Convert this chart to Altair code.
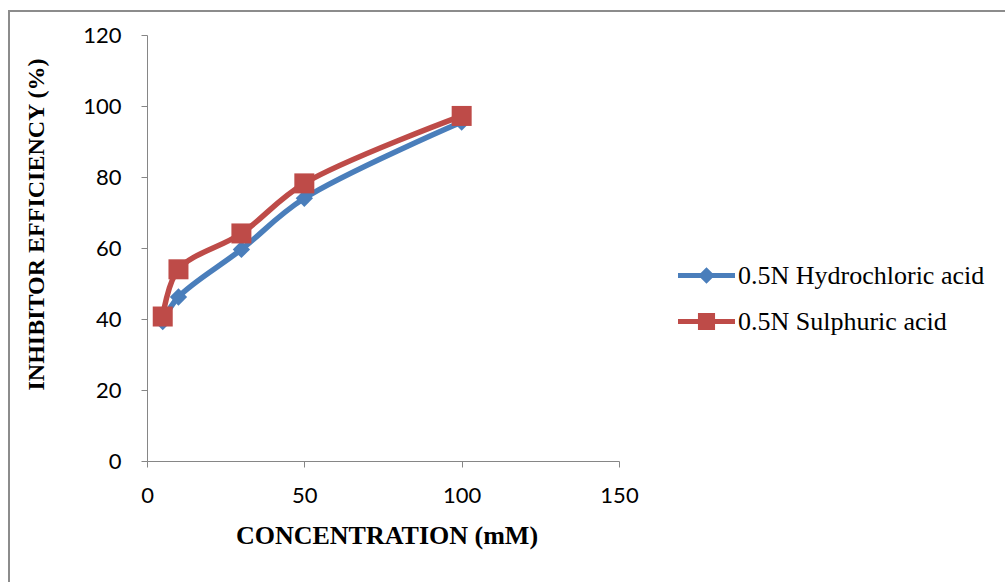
import altair as alt
import pandas as pd

concentration = [5, 10, 30, 50, 100]
hcl = [39.3, 46.2, 59.6, 74.0, 95.5]
h2so4 = [40.7, 54.0, 64.1, 78.2, 97.2]
series_names = ["0.5N Hydrochloric acid", "0.5N Sulphuric acid"]
series_colors = ["#4A7EBB", "#BE4B48"]
x_ticks = [0, 50, 100, 150]
y_ticks = [0, 20, 40, 60, 80, 100, 120]

rows = []
for c, v in zip(concentration, hcl):
    rows.append({"conc": c, "eff": v, "series": series_names[0]})
for c, v in zip(concentration, h2so4):
    rows.append({"conc": c, "eff": v, "series": series_names[1]})
df = pd.DataFrame(rows)

legend_paths = [
    "M-1,-0.09 L1,-0.09 L1,0.09 L-1,0.09 Z M-0.29,0 L0,-0.29 L0.29,0 L0,0.29 Z",
    "M-1,-0.09 L1,-0.09 L1,0.09 L-1,0.09 Z M-0.3,-0.3 L0.3,-0.3 L0.3,0.3 L-0.3,0.3 Z",
]

x_enc = alt.X("conc:Q", scale=alt.Scale(domain=[0, 150], nice=False),
              axis=alt.Axis(values=x_ticks, title="CONCENTRATION (mM)", grid=False,
                            domainColor="#868686", tickColor="#868686", tickSize=6,
                            labelFont="Lato", labelFontSize=22, labelColor="#000000",
                            labelPadding=18, labelFlush=False, titleFont="Liberation Serif",
                            titleFontSize=26, titleFontWeight="bold", titleColor="#000000",
                            titleX=239.5, titleY=82, titleBaseline="alphabetic"))
y_enc = alt.Y("eff:Q", scale=alt.Scale(domain=[0, 120], nice=False),
              axis=alt.Axis(values=y_ticks, title="INHIBITOR EFFICIENCY (%)", grid=False,
                            domainColor="#868686", tickColor="#868686", tickSize=6,
                            labelFont="Lato", labelFontSize=22, labelColor="#000000",
                            labelPadding=20, labelFlush=False, titleFont="Liberation Serif",
                            titleFontSize=24, titleFontWeight="bold", titleColor="#000000",
                            titleX=-104, titleY=189, titleBaseline="alphabetic"))

layers = []
for name, col in zip(series_names, series_colors):
    sub = df[df["series"] == name]
    layers.append(
        alt.Chart(sub).mark_line(interpolate="catmull-rom", strokeWidth=5.5, color=col)
        .encode(x=x_enc, y=y_enc)
    )
shapes = ["diamond", "square"]
sizes = [300, 400]
for name, col, shp, sz in zip(series_names, series_colors, shapes, sizes):
    sub = df[df["series"] == name]
    layers.append(
        alt.Chart(sub).mark_point(filled=True, opacity=1, color=col, shape=shp, size=sz, strokeWidth=0)
        .encode(x="conc:Q", y="eff:Q")
    )

legend_layer = alt.Chart(df).transform_filter("false").mark_point(filled=True, opacity=1, strokeWidth=0).encode(
    x="conc:Q", y="eff:Q",
    color=alt.Color("series:N", scale=alt.Scale(domain=series_names, range=series_colors),
                    legend=alt.Legend(title=None, orient="none", legendX=531, legendY=212,
                                      labelFont="Liberation Serif", labelFontSize=26,
                                      labelColor="#000000", labelOffset=3, labelLimit=0,
                                      symbolSize=3249, symbolStrokeWidth=0,
                                      rowPadding=4, padding=0)),
    shape=alt.Shape("series:N", scale=alt.Scale(domain=series_names, range=legend_paths)),
    size=alt.value(3249),
)
layers.append(legend_layer)

frame_top = alt.Chart(pd.DataFrame({"a": [0]})).mark_rule(color="#8c8c8c", strokeWidth=2).encode(
    x=alt.value(-138), x2=alt.value(870), y=alt.value(-24))
frame_left = alt.Chart(pd.DataFrame({"a": [0]})).mark_rule(color="#8c8c8c", strokeWidth=2).encode(
    x=alt.value(-138), y=alt.value(-25), y2=alt.value(560))
layers = [frame_top, frame_left] + layers

chart = alt.layer(*layers).properties(
    width=472, height=426,
    padding={"left": 147, "top": 35, "right": 386, "bottom": 121},
    autosize=alt.AutoSizeParams(type="none"),
    background="white",
).configure_view(stroke=None)

chart.save("out.html", embed_options={"renderer": "svg", "actions": False})
